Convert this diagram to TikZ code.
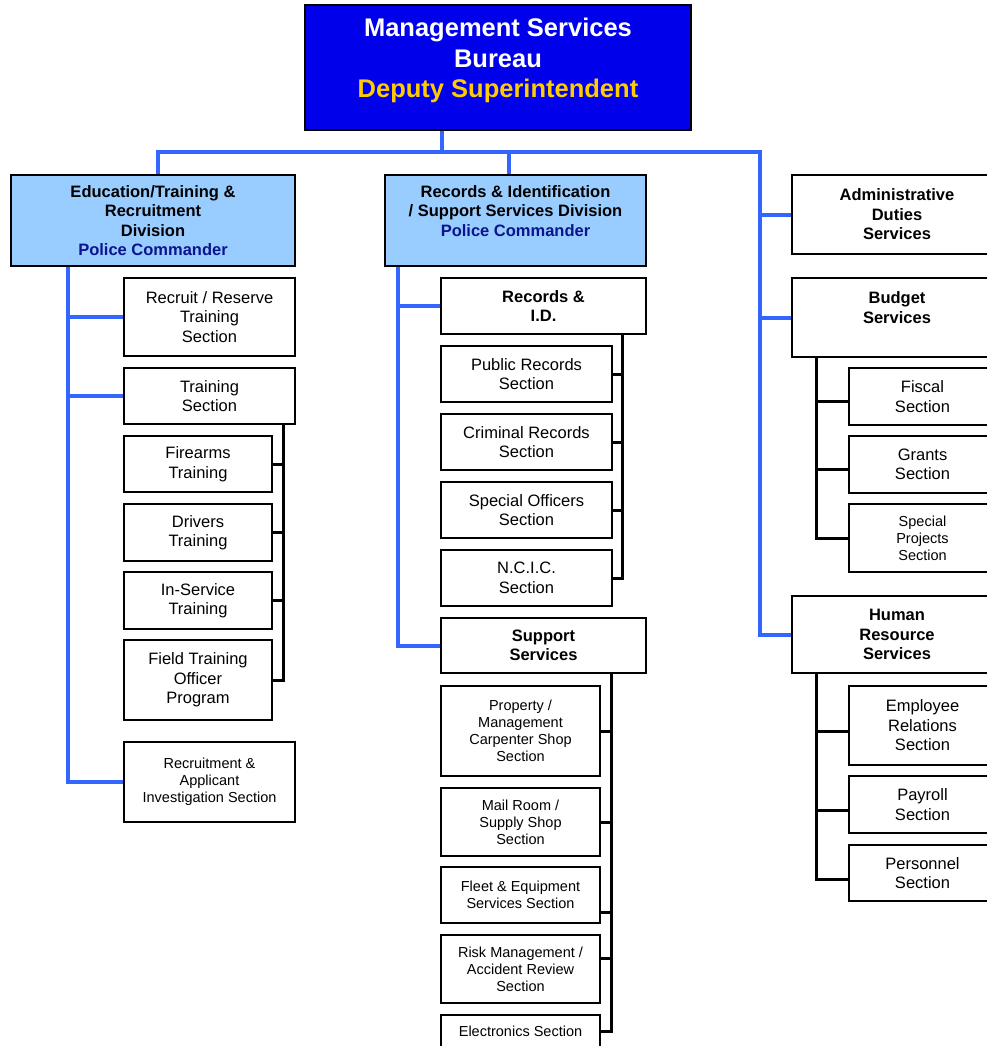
\documentclass[tikz,border=0pt]{standalone}
\usepackage{fontspec}
\setmainfont{Liberation Sans}
\usepackage{xcolor}
\usepackage{tikz}

\definecolor{topblue}{RGB}{0,0,235}
\definecolor{supyellow}{RGB}{255,204,0}
\definecolor{divblue}{RGB}{153,204,255}
\definecolor{cmdblue}{RGB}{10,20,140}
\definecolor{lineblue}{RGB}{51,102,255}

\tikzset{
 box/.style={rectangle, draw=black, line width=2pt, fill=white, align=center, inner sep=0pt, font=\fontsize{16.5pt}{19.5pt}\selectfont},
 smallbox/.style={box, font=\fontsize{14.5pt}{17pt}\selectfont},
 headbox/.style={box, font=\bfseries\fontsize{16.5pt}{19.5pt}\selectfont},
 divbox/.style={headbox, fill=divblue},
 bline/.style={draw=lineblue, line width=4pt},
 kline/.style={draw=black, line width=3pt}
}

\begin{document}
\begin{tikzpicture}[x=1pt, y=-1pt]
 \useasboundingbox (0, 0) rectangle (987, 1046);
 \clip (0, 0) rectangle (987, 1046);

 \node [box, fill=topblue, text=white, minimum width=386pt, minimum height=125pt, font=\bfseries\fontsize{25.5pt}{30.5pt}\selectfont] (top) at (498, 67.5) {Management Services\\Bureau\\\textcolor{supyellow}{Deputy Superintendent}\\[-12pt]~};

 \node [divbox, minimum width=284pt, minimum height=91pt] (edu) at (153, 220.5) {Education/Training \&\\Recruitment\\Division\\\textcolor{cmdblue}{Police Commander}};
 \node [divbox, minimum width=261pt, minimum height=91pt] (rec) at (515.5, 220.5) {Records \& Identification\\/ Support Services Division\\\textcolor{cmdblue}{Police Commander}\\~};
 \node [headbox, minimum width=210pt, minimum height=79pt] (adm) at (897, 214.5) {Administrative\\Duties\\Services};
 \node [headbox, minimum width=210pt, minimum height=79pt] (bud) at (897, 317.5) {Budget\\Services\\~};
 \node [headbox, minimum width=210pt, minimum height=77pt] (hrs) at (897, 634.5) {Human\\Resource\\Services};

 \node [box, minimum width=171pt, minimum height=78pt] (rrt) at (209.5, 317) {Recruit / Reserve\\Training\\Section};
 \node [box, minimum width=171pt, minimum height=56pt] (trs) at (209.5, 396) {Training\\Section};
 \node [box, minimum width=148pt, minimum height=56pt] (fir) at (198, 464) {Firearms\\Training};
 \node [box, minimum width=148pt, minimum height=57pt] (drv) at (198, 532.5) {Drivers\\Training};
 \node [box, minimum width=148pt, minimum height=57pt] (ins) at (198, 600.5) {In-Service\\Training};
 \node [box, minimum width=148pt, minimum height=80pt] (fto) at (198, 680) {Field Training\\Officer\\Program};
 \node [smallbox, minimum width=171pt, minimum height=80pt] (rai) at (209.5, 782) {Recruitment \&\\Applicant\\Investigation Section};

 \node [headbox, minimum width=205pt, minimum height=56pt] (rid) at (543.5, 306) {Records \&\\I.D.};
 \node [box, minimum width=171pt, minimum height=56pt] (pub) at (526.5, 374) {Public Records\\Section};
 \node [box, minimum width=171pt, minimum height=56pt] (cri) at (526.5, 442) {Criminal Records\\Section};
 \node [box, minimum width=171pt, minimum height=56pt] (spo) at (526.5, 510) {Special Officers\\Section};
 \node [box, minimum width=171pt, minimum height=56pt] (ncc) at (526.5, 578) {N.C.I.C.\\Section};
 \node [headbox, minimum width=205pt, minimum height=55pt] (sup) at (543.5, 645.5) {Support\\Services};
 \node [smallbox, minimum width=159pt, minimum height=90pt] (pro) at (520.5, 731) {Property /\\Management\\Carpenter Shop\\Section};
 \node [smallbox, minimum width=159pt, minimum height=68pt] (mai) at (520.5, 822) {Mail Room /\\Supply Shop\\Section};
 \node [smallbox, minimum width=159pt, minimum height=56pt] (flt) at (520.5, 895) {Fleet \& Equipment\\Services Section};
 \node [smallbox, minimum width=159pt, minimum height=68pt] (rsk) at (520.5, 969) {Risk Management /\\Accident Review\\Section};
 \node [smallbox, minimum width=159pt, minimum height=33pt] (ele) at (520.5, 1031.5) {Electronics Section};

 \node [box, minimum width=147pt, minimum height=57pt] (fis) at (922.5, 396.5) {Fiscal\\Section};
 \node [box, minimum width=147pt, minimum height=57pt] (gra) at (922.5, 464.5) {Grants\\Section};
 \node [smallbox, minimum width=147pt, minimum height=68pt] (spp) at (922.5, 538) {Special\\Projects\\Section};
 \node [box, minimum width=147pt, minimum height=79pt] (emp) at (922.5, 725.5) {Employee\\Relations\\Section};
 \node [box, minimum width=147pt, minimum height=57pt] (pay) at (922.5, 804.5) {Payroll\\Section};
 \node [box, minimum width=147pt, minimum height=56pt] (per) at (922.5, 873) {Personnel\\Section};

 \coordinate (hub) at (442, 152);
 \coordinate (rsp) at (760, 152);
 \coordinate (lsp) at (68, 0);
 \coordinate (msp) at (398, 0);
 \draw [bline] (top.south -| hub) -- (hub);
 \draw [bline] ([xshift=5pt]edu.north) |- (rsp) |- (hrs.west);
 \draw [bline] ([xshift=-6.5pt]rec.north) -- ([xshift=-6.5pt]rec.north |- hub);
 \draw [bline] (rsp |- adm.west) -- (adm.west);
 \draw [bline] (rsp |- bud.west) -- (bud.west);
 \draw [bline] (edu.south -| lsp) |- (rai.west);
 \draw [bline] (lsp |- rrt.west) -- (rrt.west);
 \draw [bline] (lsp |- trs.west) -- (trs.west);
 \draw [bline] (rec.south -| msp) |- (sup.west);
 \draw [bline] (msp |- rid.west) -- (rid.west);

 \coordinate (tbr) at (283, 0);
 \coordinate (rbr) at (622, 0);
 \coordinate (sbr) at (611, 0);
 \coordinate (bbr) at (816, 0);
 \draw [kline] (trs.south -| tbr) |- (fto.east);
 \draw [kline] (fir.east) -- (fir.east -| tbr);
 \draw [kline] (drv.east) -- (drv.east -| tbr);
 \draw [kline] (ins.east) -- (ins.east -| tbr);
 \draw [kline] (rid.south -| rbr) |- (ncc.east);
 \draw [kline] (pub.east) -- (pub.east -| rbr);
 \draw [kline] (cri.east) -- (cri.east -| rbr);
 \draw [kline] (spo.east) -- (spo.east -| rbr);
 \draw [kline] (sup.south -| sbr) |- (ele.east);
 \draw [kline] (pro.east) -- (pro.east -| sbr);
 \draw [kline] (mai.east) -- (mai.east -| sbr);
 \draw [kline] ([yshift=-17pt]flt.east) -- ([yshift=-17pt]flt.east -| sbr);
 \draw [kline] ([yshift=11pt]rsk.east) -- ([yshift=11pt]rsk.east -| sbr);
 \draw [kline] (bud.south -| bbr) |- (spp.west);
 \draw [kline] ([yshift=-5pt]fis.west) -- ([yshift=-5pt]fis.west -| bbr);
 \draw [kline] ([yshift=-5pt]gra.west) -- ([yshift=-5pt]gra.west -| bbr);
 \draw [kline] (hrs.south -| bbr) |- ([yshift=-6pt]per.west);
 \draw [kline] ([yshift=-6pt]emp.west) -- ([yshift=-6pt]emp.west -| bbr);
 \draw [kline] ([yshift=-6pt]pay.west) -- ([yshift=-6pt]pay.west -| bbr);
\end{tikzpicture}
\end{document}
